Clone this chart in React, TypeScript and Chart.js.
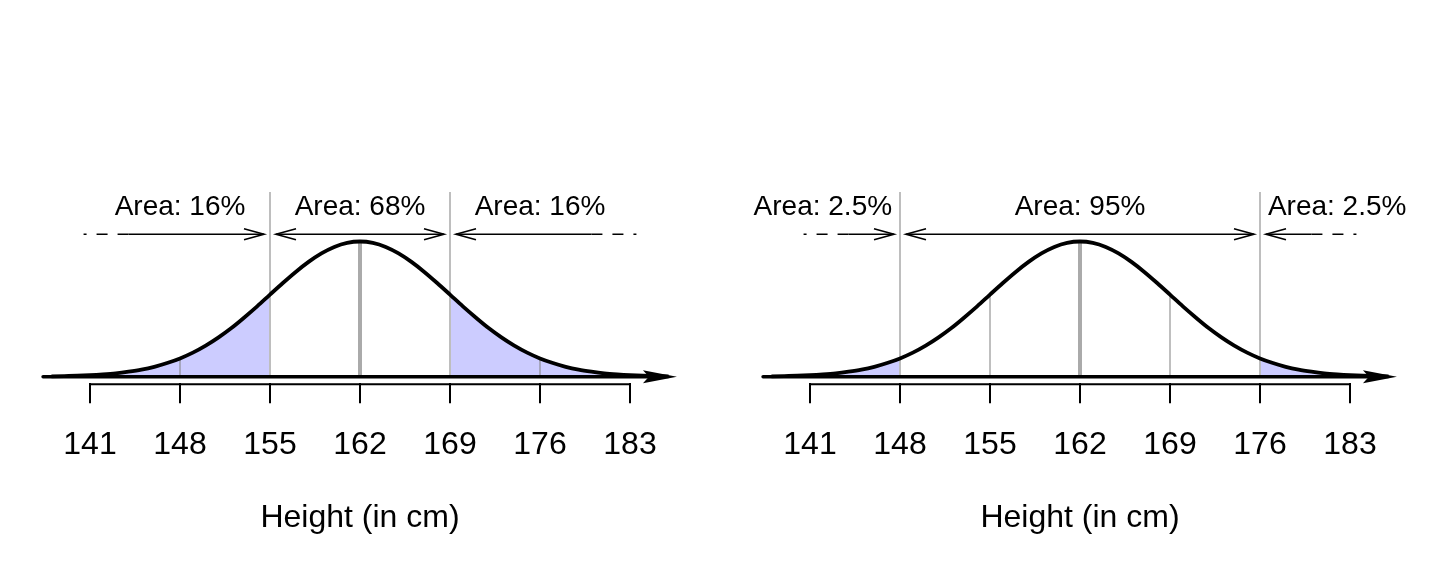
import React, { useEffect, useRef } from "react";
import { Chart, registerables } from "chart.js";

Chart.register(...registerables);

// ---------- data ----------
const HEIGHTS = [
  138, 139, 140, 141, 142, 143, 144, 145, 146, 147, 148, 149, 150, 151, 152, 153, 154,
  155, 156, 157, 158, 159, 160, 161, 162, 163, 164, 165, 166, 167, 168, 169, 170, 171,
  172, 173, 174, 175, 176, 177, 178, 179, 180, 181, 182, 183, 184, 185, 186,
];
// relative curve height (peak = 1)
const DENSITY = [
  0.003, 0.005, 0.007, 0.011, 0.017, 0.025, 0.037, 0.052, 0.073, 0.101, 0.135, 0.178, 0.23,
  0.291, 0.36, 0.438, 0.52, 0.607, 0.693, 0.775, 0.849, 0.912, 0.96, 0.99, 1.0, 0.99, 0.96,
  0.912, 0.849, 0.775, 0.693, 0.607, 0.52, 0.438, 0.36, 0.291, 0.23, 0.178, 0.135, 0.101,
  0.073, 0.052, 0.037, 0.025, 0.017, 0.011, 0.007, 0.005, 0.003,
];
const TICK_VALUES = [141, 148, 155, 162, 169, 176, 183];
const MEAN_HEIGHT = 162;
const AXIS_TITLE = "Height (in cm)";

const PANEL1_CUTS = [155, 169];
const PANEL1_GUIDES = [148, 176];
const PANEL1_AREAS = ["Area: 16%", "Area: 68%", "Area: 16%"];
const PANEL1_AREA_AT = [148, 162, 176];

const PANEL2_CUTS = [148, 176];
const PANEL2_GUIDES = [155, 169];
const PANEL2_AREAS = ["Area: 2.5%", "Area: 95%", "Area: 2.5%"];
const PANEL2_AREA_AT = [142, 162, 182];

// outer dashed end, solid start (left); solid end, dashed end (right)
const ARROW_SPAN = [140.5, 144, 180, 183.5];

// ---------- layout / style ----------
const FONT = '"Liberation Sans", Arial, Helvetica, sans-serif';
const X_MIN = 134;
const X_MAX = 190;
const Y_MIN = -0.0488;
const Y_MAX = 2.786;
const CUT_TOP = 1.366;
const LABEL_Y = 1.196;
const ARROW_Y = 1.053;
const AXIS_START = 137.35;
const AXIS_END = 186.65;
const SHADE = "rgb(204,204,255)";

Chart.defaults.font.family = FONT;

const densityAt = (h: number) => DENSITY[HEIGHTS.indexOf(h)];

function makeOverlay(cuts: number[], areas: string[], areaAt: number[]) {
  return {
    id: "overlay",
    afterDatasetsDraw(chart: any) {
      const { ctx, chartArea } = chart;
      const xs = chart.scales.x;
      const ys = chart.scales.y;
      const px = (v: number) => xs.getPixelForValue(v);
      const py = (v: number) => ys.getPixelForValue(v);
      ctx.save();

      // baseline with arrow
      const y0 = py(0);
      const tip = px(AXIS_END);
      ctx.strokeStyle = "#000";
      ctx.lineWidth = 3.5;
      ctx.lineCap = "round";
      ctx.beginPath();
      ctx.moveTo(px(AXIS_START), y0);
      ctx.lineTo(tip - 26, y0);
      ctx.stroke();
      ctx.fillStyle = "#000";
      ctx.beginPath();
      ctx.moveTo(tip, y0);
      ctx.lineTo(tip - 34, y0 - 6.5);
      ctx.lineTo(tip - 28, y0);
      ctx.lineTo(tip - 34, y0 + 6.5);
      ctx.closePath();
      ctx.fill();

      // tick baseline segment
      ctx.lineCap = "butt";
      ctx.lineWidth = 2;
      ctx.beginPath();
      ctx.moveTo(px(TICK_VALUES[0]) - 1, chartArea.bottom + 1);
      ctx.lineTo(px(TICK_VALUES[TICK_VALUES.length - 1]) + 1, chartArea.bottom + 1);
      ctx.stroke();

      // arrows
      const ay = py(ARROW_Y);
      const gap = 6;
      const head = (x: number, dir: number) => {
        ctx.beginPath();
        ctx.moveTo(x - dir * 20, ay - 5.5);
        ctx.lineTo(x, ay);
        ctx.lineTo(x - dir * 20, ay + 5.5);
        ctx.stroke();
      };
      const seg = (a: number, b: number, dash: number[]) => {
        ctx.setLineDash(dash);
        ctx.beginPath();
        ctx.moveTo(a, ay);
        ctx.lineTo(b, ay);
        ctx.stroke();
        ctx.setLineDash([]);
      };
      ctx.lineWidth = 1.6;
      ctx.strokeStyle = "#000";
      const lo = px(cuts[0]);
      const hi = px(cuts[1]);
      seg(px(ARROW_SPAN[1]), px(ARROW_SPAN[0]), [11, 10]);
      seg(px(ARROW_SPAN[1]), lo - gap, []);
      head(lo - gap, 1);
      seg(lo + gap, hi - gap, []);
      head(lo + gap, -1);
      head(hi - gap, 1);
      seg(hi + gap, px(ARROW_SPAN[2]), []);
      head(hi + gap, -1);
      seg(px(ARROW_SPAN[2]), px(ARROW_SPAN[3]), [11, 10]);

      // area labels
      ctx.fillStyle = "#000";
      ctx.font = `28px ${FONT}`;
      ctx.textAlign = "center";
      ctx.textBaseline = "alphabetic";
      areas.forEach((t, i) => ctx.fillText(t, px(areaAt[i]), py(LABEL_Y)));

      ctx.restore();
    },
  };
}

function Panel({ cuts, guides, areas, areaAt }: { cuts: number[]; guides: number[]; areas: string[]; areaAt: number[] }) {
  const ref = useRef<HTMLCanvasElement | null>(null);
  useEffect(() => {
    if (!ref.current) return;
    const pts = HEIGHTS.map((h, i) => ({ x: h, y: DENSITY[i] }));
    const line = { pointRadius: 0, fill: false, tension: 0 };
    const datasets: any[] = [
      {
        data: pts.filter((p) => p.x <= cuts[0]),
        fill: "origin",
        backgroundColor: SHADE,
        borderColor: "transparent",
        borderWidth: 0,
        pointRadius: 0,
        cubicInterpolationMode: "monotone",
        order: 5,
      },
      {
        data: pts.filter((p) => p.x >= cuts[1]),
        fill: "origin",
        backgroundColor: SHADE,
        borderColor: "transparent",
        borderWidth: 0,
        pointRadius: 0,
        cubicInterpolationMode: "monotone",
        order: 5,
      },
      ...cuts.map((c) => ({
        ...line,
        data: [{ x: c, y: 0 }, { x: c, y: CUT_TOP }],
        borderColor: "#bebebe",
        borderWidth: 2,
        order: 4,
      })),
      ...guides.map((g) => ({
        ...line,
        data: [{ x: g, y: 0 }, { x: g, y: densityAt(g) }],
        borderColor: "rgba(128,128,128,0.5)",
        borderWidth: 2,
        order: 4,
      })),
      {
        ...line,
        data: [{ x: MEAN_HEIGHT, y: 0 }, { x: MEAN_HEIGHT, y: densityAt(MEAN_HEIGHT) }],
        borderColor: "#aaaaaa",
        borderWidth: 4,
        order: 3,
      },
      {
        data: pts,
        borderColor: "#000",
        borderWidth: 3.8,
        fill: false,
        pointRadius: 0,
        cubicInterpolationMode: "monotone",
        order: 1,
      },
    ];
    const chart = new Chart(ref.current, {
      type: "line",
      data: { datasets },
      options: {
        responsive: false,
        animation: false,
        devicePixelRatio: 1,
        events: [],
        layout: { padding: { left: 0, right: 0, top: 0, bottom: 38.3 } },
        plugins: { legend: { display: false }, tooltip: { enabled: false } },
        scales: {
          x: {
            type: "linear",
            min: X_MIN,
            max: X_MAX,
            afterBuildTicks: (s: any) => {
              s.ticks = TICK_VALUES.map((v) => ({ value: v }));
            },
            grid: { drawOnChartArea: false, drawTicks: true, tickLength: 20, color: "#000", lineWidth: 2 },
            border: { display: false },
            ticks: {
              font: { size: 32 },
              color: "#000",
              padding: 22.8,
              maxRotation: 0,
              autoSkip: false,
              callback: (v: any) => String(v),
            },
            title: {
              display: true,
              text: AXIS_TITLE,
              font: { size: 32 },
              color: "#000",
              padding: { top: 12, bottom: 0 },
            },
          },
          y: { type: "linear", display: false, min: Y_MIN, max: Y_MAX },
        },
      },
      plugins: [makeOverlay(cuts, areas, areaAt)],
    } as any);
    return () => chart.destroy();
  }, []);
  return <canvas ref={ref} width={720} height={576} style={{ display: "block", width: 720, height: 576 }} />;
}

export default function App() {
  return (
    <div style={{ position: "absolute", left: 0, top: 0, width: 1440, height: 576, display: "flex", background: "#fff" }}>
      <Panel cuts={PANEL1_CUTS} guides={PANEL1_GUIDES} areas={PANEL1_AREAS} areaAt={PANEL1_AREA_AT} />
      <Panel cuts={PANEL2_CUTS} guides={PANEL2_GUIDES} areas={PANEL2_AREAS} areaAt={PANEL2_AREA_AT} />
    </div>
  );
}
